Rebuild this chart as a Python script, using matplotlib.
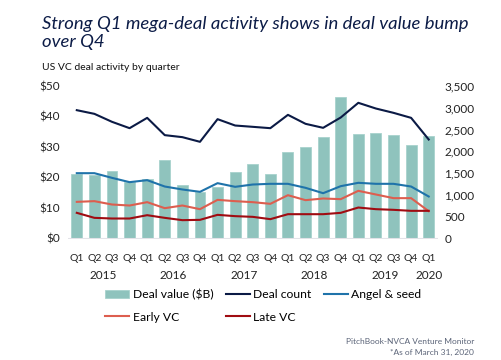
import matplotlib
matplotlib.use("Agg")
import matplotlib.pyplot as plt
import numpy as np

plt.rcParams['font.family'] = ['Lato', 'DejaVu Sans']

quarters = ["Q1", "Q2", "Q3", "Q4"] * 5 + ["Q1"]
years = ["2015", "2016", "2017", "2018", "2019", "2020"]
deal_value = [21.0, 20.8, 22.0, 18.6, 19.6, 25.6, 17.6, 15.3, 16.9, 21.7,
              24.3, 21.3, 28.2, 29.9, 33.3, 46.4, 34.4, 34.6, 34.0, 30.5, 33.6]
deal_count = [2945, 2861, 2678, 2532, 2769, 2372, 2326, 2219, 2739, 2593,
              2563, 2532, 2838, 2632, 2540, 2777, 3114, 2983, 2884, 2769, 2272]
angel_seed = [1499, 1499, 1392, 1293, 1339, 1193, 1125, 1071, 1270, 1186,
              1239, 1255, 1255, 1163, 1040, 1201, 1278, 1255, 1255, 1193, 964]
early_vc = [841, 857, 780, 757, 834, 696, 757, 673, 887, 857,
            834, 796, 994, 880, 918, 903, 1094, 1010, 926, 926, 627]
late_vc = [589, 474, 459, 459, 535, 474, 421, 428, 543, 513,
           497, 444, 558, 558, 558, 589, 711, 673, 658, 635, 635]

navy = "#0c1c47"
c_bar = "#8fc3bd"
c_count = "#0b1a45"
c_angel = "#1f73aa"
c_early = "#dd5e4f"
c_late = "#a00c12"

fig = plt.figure(figsize=(5.01, 3.60), dpi=100)
ax = fig.add_axes([68/501, 1-238.5/360, (437.5-68)/501, (238.5-86)/360])
ax2 = ax.twinx()

x = np.arange(len(deal_value))
bars = ax.bar(x, deal_value, width=0.62, color=c_bar, edgecolor="#a8d2cd", linewidth=0.6,
              label="Deal value ($B)", zorder=2)
ax.set_ylim(0, 50)
ax.set_xlim(-0.5, 20.5)
ax.set_yticks([0, 10, 20, 30, 40, 50])
ax.set_yticklabels([f"${v}" for v in [0, 10, 20, 30, 40, 50]])

lw = 1.5
l_count, = ax2.plot(x, deal_count, color=c_count, lw=lw, label="Deal count")
l_angel, = ax2.plot(x, angel_seed, color=c_angel, lw=lw, label="Angel & seed")
l_early, = ax2.plot(x, early_vc, color=c_early, lw=lw, label="Early VC")
l_late, = ax2.plot(x, late_vc, color=c_late, lw=lw, label="Late VC")
ax2.set_ylim(0, 3500)
ax2.set_yticks(range(0, 3501, 500))
ax2.set_yticklabels([f"{v:,}" for v in range(0, 3501, 500)])

for a in (ax, ax2):
    for s in a.spines.values():
        s.set_visible(False)
    a.tick_params(length=0, labelsize=8.5, colors="#222222")
ax.tick_params(axis='y', pad=6)
ax2.tick_params(axis='y', pad=5)
ax.axhline(0, color="#e3e3e8", lw=1.5, zorder=3)

ax.set_xticks(x)
ax.set_xticklabels(quarters, fontsize=7.5)
ax.tick_params(axis='x', pad=11)

year_pos = [1.5, 5.5, 9.5, 13.5, 17.5, 20]
for yp, yl in zip(year_pos, years):
    ax.text(yp, -12.0, yl, ha="center", va="center", fontsize=8.5, color="#222222",
            transform=ax.transData, clip_on=False)

fig.text(42/501, 1-24/360, "Strong Q1 mega-deal activity shows in deal value bump",
         fontsize=13.3, style="italic", color=navy, va="center", ha="left")
fig.text(42/501, 1-42.5/360, "over Q4",
         fontsize=13.3, style="italic", color=navy, va="center", ha="left")
fig.text(42/501, 1-67/360, "US VC deal activity by quarter", fontsize=7.5, color="#111111",
         va="center", ha="left")

handles = [bars, l_early, l_count, l_late, l_angel]
labels = [h.get_label() for h in handles]
leg = fig.legend(handles, labels, ncol=3, loc="upper left",
                 bbox_to_anchor=(105/501, 1-289/360), frameon=False, fontsize=8.7,
                 handlelength=2.0, handletextpad=0.3, columnspacing=1.0,
                 labelspacing=0.95, borderpad=0, borderaxespad=0)

fig.text(474/501, 1-341/360, "PitchBook-NVCA Venture Monitor", fontsize=6, color="#5b6478",
         ha="right", va="center")
fig.text(474/501, 1-352/360, "*As of March 31, 2020", fontsize=6, color="#5b6478",
         ha="right", va="center")

fig.savefig("out.png", dpi=100)
